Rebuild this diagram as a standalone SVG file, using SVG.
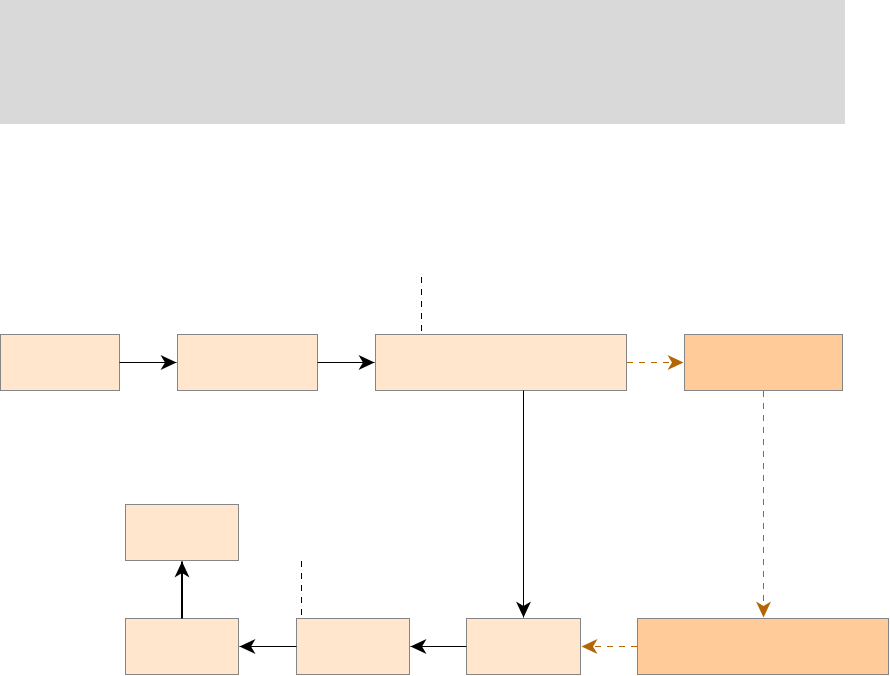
<svg xmlns="http://www.w3.org/2000/svg" width="890" height="676" viewBox="0 0 890 676">
<style>
.box{fill:#FFE6CC;stroke:#858585;stroke-width:1}
.hot{fill:#FFCC99;stroke:#858585;stroke-width:1}
.ln{fill:none;stroke:#000;stroke-width:1}
.thick{stroke-width:2}
.od{fill:none;stroke:#B46504;stroke-width:1;stroke-dasharray:6 6}
.bd{fill:none;stroke:#000;stroke-width:1;stroke-dasharray:6 6}
</style>
<defs>
<marker id="ab" markerUnits="userSpaceOnUse" viewBox="-17 -9 18 18" refX="0" refY="0" markerWidth="18" markerHeight="18" orient="auto" overflow="visible">
<path d="M0,0 L-16,-7.5 L-11.5,0 L-16,7.5 Z" fill="#000"/>
</marker>
<marker id="ao" markerUnits="userSpaceOnUse" viewBox="-17 -9 18 18" refX="0" refY="0" markerWidth="18" markerHeight="18" orient="auto" overflow="visible">
<path d="M0,0 L-16,-7.5 L-11.5,0 L-16,7.5 Z" fill="#B46504"/>
</marker>
</defs>
<rect x="0" y="0" width="845" height="124" fill="#D9D9D9"/>
<g id="n1"><rect class="box" x="0.5" y="334.5" width="119" height="56"/></g>
<g id="n2"><rect class="box" x="177.5" y="334.5" width="140" height="56"/></g>
<g id="n3"><rect class="box" x="375.5" y="334.5" width="251" height="56"/></g>
<g id="n4"><rect class="hot" x="684.5" y="334.5" width="158" height="56"/></g>
<g id="n5"><rect class="box" x="125.5" y="504.5" width="113" height="56"/></g>
<g id="n6"><rect class="box" x="125.5" y="618.5" width="113" height="56"/></g>
<g id="n7"><rect class="box" x="296.5" y="618.5" width="113" height="56"/></g>
<g id="n8"><rect class="box" x="466.5" y="618.5" width="114" height="56"/></g>
<g id="n9"><rect class="hot" x="637.5" y="618.5" width="251" height="56"/></g>
<g id="connectors">
<path class="ln" d="M119.5,362.5 H176.5" marker-end="url(#ab)"/>
<path class="ln" d="M317.5,362.5 H374.5" marker-end="url(#ab)"/>
<path class="od" d="M627,362.5 H683.5" marker-end="url(#ao)"/>
<path class="ln" d="M523.5,390.5 V617.5" marker-end="url(#ab)"/>
<path class="od" d="M763.5,391 V617.5" marker-end="url(#ao)"/>
<path class="od" d="M637,646.5 H581.5" marker-end="url(#ao)"/>
<path class="ln" d="M466.5,646.5 H410.5" marker-end="url(#ab)"/>
<path class="ln" d="M296.5,646.5 H239.5" marker-end="url(#ab)"/>
<path class="ln thick" d="M182,618.5 V561.5" marker-end="url(#ab)"/>
<path class="bd" d="M421.5,277 V331"/>
<path class="bd" d="M301.5,561 V615"/>
</g>
</svg>
